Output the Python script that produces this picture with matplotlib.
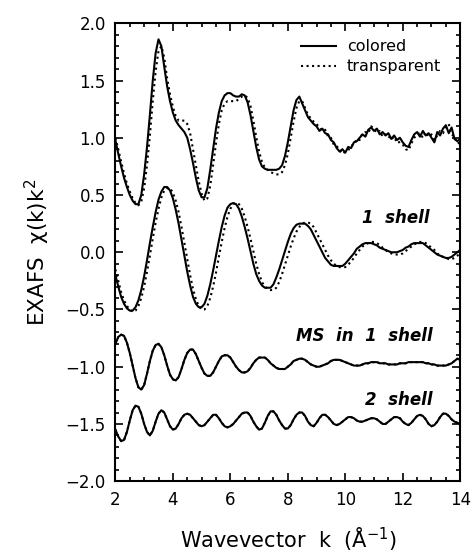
import numpy as np
import matplotlib
matplotlib.use("Agg")
import matplotlib.pyplot as plt
from matplotlib.ticker import MultipleLocator
from matplotlib.lines import Line2D

# wavevector grid (k, 1/Angstrom), 0.1 step from 2 to 14
k = np.round(np.arange(2.0, 14.0001, 0.1), 2)

exp_colored = [
    0.98, 0.86, 0.75, 0.65, 0.57, 0.50, 0.45, 0.42, 0.42, 0.50,
    0.68, 0.92, 1.20, 1.50, 1.74, 1.86, 1.80, 1.62, 1.45, 1.32,
    1.22, 1.15, 1.11, 1.08, 1.05, 1.00, 0.90, 0.78, 0.65, 0.54,
    0.48, 0.48, 0.56, 0.72, 0.90, 1.08, 1.22, 1.32, 1.37, 1.39,
    1.39, 1.37, 1.36, 1.36, 1.38, 1.37, 1.31, 1.20, 1.06, 0.92,
    0.81, 0.75, 0.73, 0.72, 0.72, 0.72, 0.72, 0.73, 0.76, 0.84,
    0.96, 1.10, 1.24, 1.33, 1.36, 1.30, 1.24, 1.18, 1.15, 1.12,
    1.10, 1.06, 1.08, 1.04, 1.03, 0.98, 0.96, 0.91, 0.88, 0.90,
    0.87, 0.92, 0.91, 0.96, 0.97, 1.00, 1.03, 1.01, 1.07, 1.09,
    1.06, 1.08, 1.03, 1.05, 1.02, 1.04, 0.99, 1.02, 0.98, 1.00,
    0.96, 0.93, 0.92, 0.98, 1.03, 1.05, 1.01, 1.06, 1.02, 1.04,
    1.00, 0.96, 1.05, 1.02, 1.08, 1.11, 1.04, 1.09, 0.99, 0.97,
    0.99]

exp_transparent = [
    1.00, 0.90, 0.79, 0.69, 0.60, 0.53, 0.47, 0.43, 0.41, 0.44,
    0.56, 0.76, 1.02, 1.32, 1.58, 1.76, 1.80, 1.70, 1.52, 1.38,
    1.27, 1.19, 1.15, 1.15, 1.15, 1.12, 1.04, 0.90, 0.76, 0.62,
    0.51, 0.45, 0.47, 0.58, 0.76, 0.95, 1.12, 1.24, 1.30, 1.32,
    1.32, 1.32, 1.32, 1.34, 1.36, 1.37, 1.35, 1.28, 1.15, 1.01,
    0.88, 0.79, 0.74, 0.72, 0.70, 0.69, 0.68, 0.68, 0.70, 0.76,
    0.86, 1.00, 1.14, 1.26, 1.32, 1.32, 1.26, 1.20, 1.17, 1.14,
    1.12, 1.09, 1.06, 1.07, 1.01, 1.00, 0.94, 0.93, 0.89, 0.86,
    0.88, 0.89, 0.93, 0.94, 0.99, 0.98, 1.04, 1.05, 1.04, 1.10,
    1.08, 1.04, 1.06, 1.01, 1.03, 1.00, 1.02, 0.97, 0.99, 0.95,
    0.94, 0.90, 0.89, 0.95, 1.00, 1.03, 1.04, 1.00, 1.05, 1.01,
    1.03, 0.98, 1.02, 1.06, 1.04, 1.09, 1.12, 1.03, 1.01, 0.95,
    0.96]

shell1_colored = [
    -0.20, -0.30, -0.39, -0.45, -0.49, -0.51, -0.51, -0.48, -0.42, -0.33,
    -0.21, -0.07, 0.08, 0.22, 0.35, 0.46, 0.53, 0.57, 0.57, 0.54,
    0.47, 0.37, 0.25, 0.11, -0.03, -0.17, -0.29, -0.39, -0.45, -0.48,
    -0.48, -0.45, -0.38, -0.28, -0.16, -0.03, 0.10, 0.22, 0.32, 0.39,
    0.42, 0.43, 0.42, 0.38, 0.31, 0.22, 0.12, 0.01, -0.10, -0.19,
    -0.25, -0.29, -0.31, -0.31, -0.31, -0.28, -0.22, -0.15, -0.07, 0.01,
    0.09, 0.16, 0.21, 0.24, 0.25, 0.25, 0.25, 0.23, 0.20, 0.15,
    0.10, 0.05, 0.00, -0.05, -0.08, -0.11, -0.12, -0.12, -0.12, -0.12,
    -0.10, -0.07, -0.04, -0.01, 0.03, 0.05, 0.07, 0.08, 0.08, 0.08,
    0.07, 0.06, 0.04, 0.03, 0.02, 0.01, 0.00, 0.00, 0.00, 0.01,
    0.02, 0.04, 0.05, 0.07, 0.08, 0.08, 0.08, 0.08, 0.06, 0.04,
    0.02, 0.00, -0.02, -0.03, -0.04, -0.05, -0.05, -0.04, -0.02, 0.00,
    0.02]

shell1_transparent = [
    -0.15, -0.25, -0.35, -0.42, -0.47, -0.50, -0.52, -0.51, -0.47, -0.40,
    -0.30, -0.17, -0.03, 0.12, 0.26, 0.38, 0.48, 0.54, 0.56, 0.56,
    0.52, 0.45, 0.35, 0.22, 0.08, -0.06, -0.20, -0.32, -0.41, -0.47,
    -0.50, -0.50, -0.47, -0.40, -0.30, -0.18, -0.04, 0.09, 0.21, 0.31,
    0.38, 0.42, 0.43, 0.42, 0.38, 0.31, 0.22, 0.12, 0.01, -0.10,
    -0.19, -0.26, -0.30, -0.32, -0.33, -0.33, -0.31, -0.26, -0.19, -0.11,
    -0.03, 0.05, 0.12, 0.18, 0.22, 0.25, 0.26, 0.26, 0.25, 0.22,
    0.17, 0.12, 0.07, 0.02, -0.03, -0.07, -0.10, -0.12, -0.13, -0.13,
    -0.13, -0.11, -0.08, -0.05, -0.01, 0.02, 0.05, 0.07, 0.08, 0.09,
    0.09, 0.08, 0.06, 0.04, 0.02, 0.00, -0.01, -0.02, -0.02, -0.02,
    -0.01, 0.01, 0.03, 0.05, 0.07, 0.08, 0.09, 0.09, 0.08, 0.06,
    0.04, 0.02, -0.01, -0.03, -0.04, -0.05, -0.06, -0.06, -0.05, -0.03,
    -0.01]

# multiple scattering in 1 shell (colored and transparent overlap)
ms_shell = [
    -0.80, -0.74, -0.72, -0.73, -0.79, -0.88, -0.99, -1.10, -1.18, -1.20,
    -1.16, -1.06, -0.95, -0.86, -0.81, -0.80, -0.83, -0.90, -0.99, -1.07,
    -1.11, -1.12, -1.09, -1.02, -0.94, -0.88, -0.85, -0.85, -0.89, -0.95,
    -1.01, -1.06, -1.08, -1.08, -1.05, -1.00, -0.95, -0.91, -0.90, -0.90,
    -0.92, -0.96, -1.00, -1.03, -1.05, -1.05, -1.04, -1.01, -0.97, -0.94,
    -0.92, -0.92, -0.92, -0.94, -0.97, -0.99, -1.01, -1.02, -1.02, -1.02,
    -1.00, -0.98, -0.95, -0.94, -0.93, -0.93, -0.94, -0.96, -0.98, -0.99,
    -1.00, -1.00, -0.99, -0.98, -0.97, -0.95, -0.94, -0.94, -0.94, -0.95,
    -0.96, -0.97, -0.98, -0.99, -0.99, -0.99, -0.98, -0.97, -0.97, -0.96,
    -0.96, -0.96, -0.97, -0.97, -0.97, -0.98, -0.98, -0.98, -0.98, -0.97,
    -0.97, -0.97, -0.96, -0.96, -0.96, -0.96, -0.96, -0.96, -0.97, -0.97,
    -0.98, -0.98, -0.99, -0.99, -0.99, -0.99, -0.98, -0.97, -0.95, -0.93,
    -0.94]

# 2 shell fit (colored and transparent overlap)
shell2 = [
    -1.55, -1.61, -1.65, -1.64, -1.57, -1.47, -1.38, -1.34, -1.35, -1.41,
    -1.50, -1.57, -1.60, -1.56, -1.48, -1.41, -1.38, -1.40, -1.46, -1.52,
    -1.55, -1.54, -1.50, -1.45, -1.42, -1.41, -1.42, -1.45, -1.48, -1.51,
    -1.52, -1.51, -1.48, -1.45, -1.42, -1.42, -1.45, -1.49, -1.52, -1.53,
    -1.52, -1.50, -1.47, -1.44, -1.41, -1.40, -1.40, -1.43, -1.48, -1.52,
    -1.55, -1.54, -1.49, -1.43, -1.39, -1.39, -1.42, -1.47, -1.51, -1.54,
    -1.54, -1.51, -1.46, -1.42, -1.40, -1.40, -1.43, -1.48, -1.51, -1.52,
    -1.49, -1.45, -1.42, -1.42, -1.44, -1.47, -1.50, -1.51, -1.50, -1.48,
    -1.46, -1.44, -1.44, -1.45, -1.47, -1.48, -1.48, -1.47, -1.46, -1.45,
    -1.45, -1.46, -1.48, -1.50, -1.50, -1.48, -1.46, -1.44, -1.44, -1.45,
    -1.48, -1.50, -1.51, -1.49, -1.46, -1.43, -1.42, -1.43, -1.46, -1.50,
    -1.52, -1.51, -1.48, -1.44, -1.41, -1.41, -1.43, -1.46, -1.48, -1.49,
    -1.50]

legend_labels = ["colored", "transparent"]
curve_labels = ["1  shell", "MS  in  1  shell", "2  shell"]
curve_label_pos = [(12.95, 0.30), (13.05, -0.73), (13.05, -1.29)]

plt.rcParams['font.family'] = ['DejaVu Sans']
plt.rcParams['axes.unicode_minus'] = True

fig = plt.figure(figsize=(4.73, 5.55), dpi=100)
ax = fig.add_axes([0.244, 0.133, 0.729, 0.825])

lw = 1.5
ax.plot(k, exp_colored, color='black', lw=lw, ls='-')
ax.plot(k, exp_transparent, color='black', lw=lw, ls=':')
ax.plot(k, shell1_colored, color='black', lw=lw, ls='-')
ax.plot(k, shell1_transparent, color='black', lw=lw, ls=':')
ax.plot(k, ms_shell, color='black', lw=lw, ls=':')
ax.plot(k, ms_shell, color='black', lw=lw, ls='-')
ax.plot(k, shell2, color='black', lw=lw, ls=':')
ax.plot(k, shell2, color='black', lw=lw, ls='-')

ax.set_xlim(2, 14)
ax.set_ylim(-2.0, 2.0)
ax.xaxis.set_major_locator(MultipleLocator(2))
ax.xaxis.set_minor_locator(MultipleLocator(0.5))
ax.yaxis.set_major_locator(MultipleLocator(0.5))
ax.yaxis.set_minor_locator(MultipleLocator(0.1))
ax.yaxis.set_major_formatter(
    matplotlib.ticker.FuncFormatter(lambda v, p: f"{v:.1f}".replace("-", "\u2212")))
ax.tick_params(which='both', direction='in', top=True, right=True,
               width=1.2, labelsize=12, colors='black')
ax.tick_params(which='major', length=6, pad=7)
ax.tick_params(which='minor', length=3)
for s in ax.spines.values():
    s.set_linewidth(1.5)

ax.set_xlabel("Wavevector  k  (Å$^{-1}$)", fontsize=15, labelpad=12)
ax.set_ylabel("EXAFS  χ(k)k$^{2}$", fontsize=15.5, labelpad=10)

for lab, (xx, yy) in zip(curve_labels, curve_label_pos):
    ax.text(xx, yy, lab, ha='right', va='center', fontsize=12,
            fontweight='bold', fontstyle='italic')

handles = [Line2D([], [], color='black', lw=lw, ls='-'),
           Line2D([], [], color='black', lw=lw, ls=':')]
ax.legend(handles, legend_labels, loc='upper right',
          bbox_to_anchor=(0.945, 0.965), frameon=False, fontsize=11.5,
          handlelength=2.2, handletextpad=0.7, labelspacing=0.3,
          borderpad=0, borderaxespad=0)

fig.savefig("out.png", dpi=100)
